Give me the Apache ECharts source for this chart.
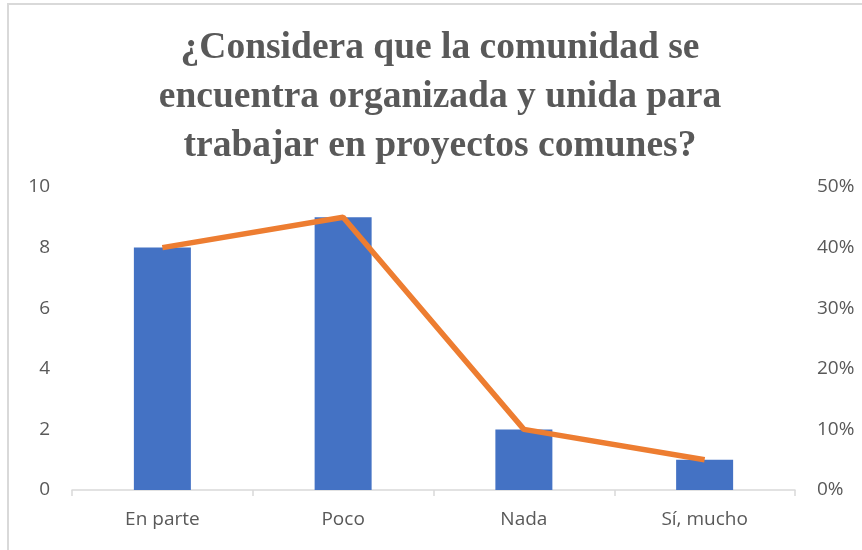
<!DOCTYPE html>
<html>
<head>
<meta charset="utf-8">
<script src="https://cdn.jsdelivr.net/npm/echarts@6/dist/echarts.min.js"></script>
<style>
  html, body { margin: 0; padding: 0; background: #fff; }
  #chart { width: 862px; height: 550px; }
</style>
</head>
<body>
<div id="chart"></div>
<script>
  var categories = ['En parte', 'Poco', 'Nada', 'Sí, mucho'];
  var counts = [8, 9, 2, 1];
  var percents = [0.40, 0.45, 0.10, 0.05];
  var titleText = '¿Considera que la comunidad se\nencuentra organizada y unida para\ntrabajar en proyectos comunes?';

  var chart = echarts.init(document.getElementById('chart'));
  var axisText = { color: '#595959', fontSize: 19, fontFamily: 'Open Sans, Noto Sans, sans-serif' };

  chart.setOption({
    animation: false,
    backgroundColor: '#fff',
    graphic: [{
      type: 'rect',
      shape: { x: 8, y: 4, width: 900, height: 600 },
      style: { fill: 'none', stroke: '#d9d9d9', lineWidth: 2 },
      silent: true
    }, {
      type: 'text',
      x: 440,
      y: 24,
      silent: true,
      style: {
        text: titleText,
        align: 'center',
        verticalAlign: 'top',
        fill: '#595959',
        fontSize: 37.5,
        fontWeight: 'bold',
        fontFamily: 'Liberation Serif, Times New Roman, serif',
        lineHeight: 49
      }
    }],
    grid: { left: 72, right: 67, top: 187, bottom: 60 },
    xAxis: {
      type: 'category',
      data: categories,
      axisLine: { lineStyle: { color: '#d9d9d9', width: 1.5 } },
      axisTick: { show: true, length: 6, lineStyle: { color: '#d9d9d9', width: 1.5 } },
      axisLabel: Object.assign({ margin: 20 }, axisText)
    },
    yAxis: [{
      type: 'value',
      min: 0, max: 10, interval: 2,
      splitLine: { show: false },
      axisLine: { show: false },
      axisTick: { show: false },
      axisLabel: Object.assign({ margin: 22 }, axisText)
    }, {
      type: 'value',
      min: 0, max: 0.5, interval: 0.1,
      splitLine: { show: false },
      axisLine: { show: false },
      axisTick: { show: false },
      axisLabel: Object.assign({
        margin: 22,
        formatter: function (v) { return Math.round(v * 100) + '%'; }
      }, axisText)
    }],
    series: [{
      type: 'bar',
      data: counts,
      barWidth: 57,
      itemStyle: { color: '#4472C4' }
    }, {
      type: 'line',
      yAxisIndex: 1,
      data: percents,
      symbol: 'none',
      lineStyle: { color: '#ED7D31', width: 5.5 }
    }]
  });
</script>
</body>
</html>
